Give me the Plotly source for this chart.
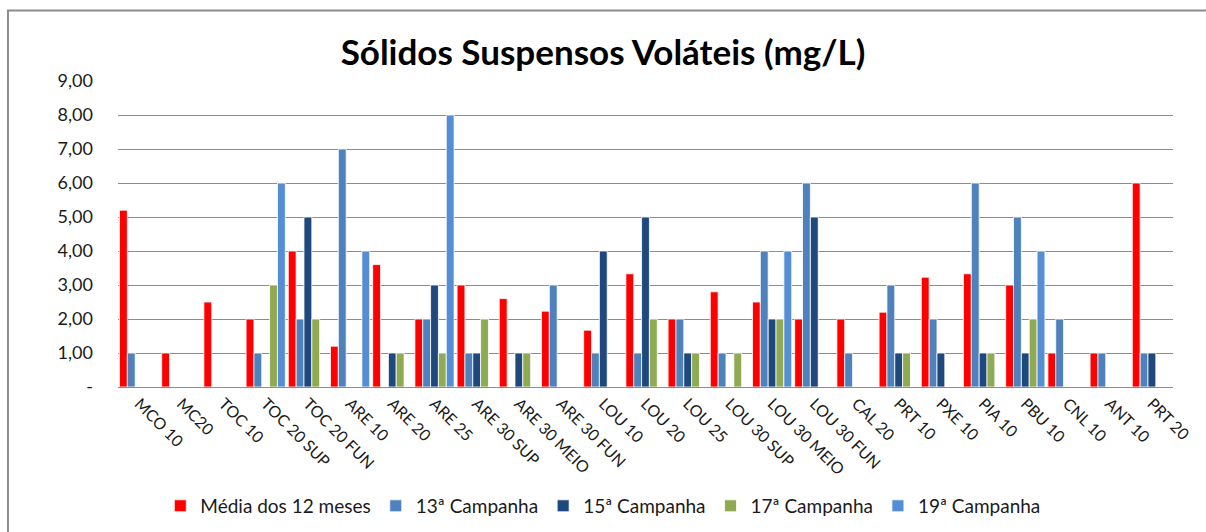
import plotly.graph_objects as go

# categories (sampling points)
pontos = ['MCO 10', 'MC20', 'TOC 10', 'TOC 20 SUP', 'TOC 20 FUN', 'ARE 10', 'ARE 20',
          'ARE 25', 'ARE 30 SUP', 'ARE 30 MEIO', 'ARE 30 FUN', 'LOU 10', 'LOU 20',
          'LOU 25', 'LOU 30 SUP', 'LOU 30 MEIO', 'LOU 30 FUN', 'CAL 20', 'PRT 10',
          'PXE 10', 'PIA 10', 'PBU 10', 'CNL 10', 'ANT 10', 'PRT 20']

# series values (mg/L)
media_12_meses = [5.2, 1.0, 2.5, 2.0, 4.0, 1.2, 3.6, 2.0, 3.0, 2.6, 2.23, 1.67, 3.33,
                  2.0, 2.8, 2.5, 2.0, 2.0, 2.2, 3.23, 3.33, 3.0, 1.0, 1.0, 6.0]
campanha_13 = [1, 0, 0, 1, 2, 7, 0, 2, 1, 0, 3, 1, 1, 2, 1, 4, 6, 1, 3, 2, 6, 5, 2, 1, 1]
campanha_15 = [0, 0, 0, 0, 5, 0, 1, 3, 1, 1, 0, 4, 5, 1, 0, 2, 5, 0, 1, 1, 1, 1, 0, 0, 1]
campanha_17 = [0, 0, 0, 3, 2, 0, 1, 1, 2, 1, 0, 0, 2, 1, 1, 2, 0, 0, 1, 0, 1, 2, 0, 0, 0]
campanha_19 = [0, 0, 0, 6, 0, 4, 0, 8, 0, 0, 0, 0, 0, 0, 0, 4, 0, 0, 0, 0, 0, 4, 0, 0, 0]

# y axis ticks
y_ticks = [0, 1, 2, 3, 4, 5, 6, 7, 8, 9]
y_tick_labels = ['-', '1,00', '2,00', '3,00', '4,00', '5,00', '6,00', '7,00', '8,00', '9,00']

series = [
    ('Média dos 12 meses', media_12_meses, '#FF0000'),
    ('13ª Campanha', campanha_13, '#4F81BD'),
    ('15ª Campanha', campanha_15, '#1F497D'),
    ('17ª Campanha', campanha_17, '#8FAA52'),
    ('19ª Campanha', campanha_19, '#558ED5'),
]

fig = go.Figure()
for nome, valores, cor in series:
    fig.add_trace(go.Bar(x=pontos, y=valores, name=nome,
                         marker=dict(color=cor, line=dict(color='white', width=0.8))))

fig.update_layout(
    width=1206, height=532,
    barmode='group', bargap=0.07, bargroupgap=0,
    title=dict(text='<b>Sólidos Suspensos Voláteis (mg/L)</b>', x=0.5, xanchor='center',
               y=0.9, yanchor='middle',
               font=dict(family='Lato', size=35, color='black')),
    font=dict(family='Lato', size=16, color='#1a1a1a'),
    plot_bgcolor='white', paper_bgcolor='white',
    margin=dict(l=118, r=33, t=81, b=145),
    showlegend=True,
    legend=dict(orientation='h', x=0.46, xanchor='center',
                yref='container', y=0.049, yanchor='middle',
                font=dict(size=19, color='#1a1a1a'), traceorder='normal'),
)

fig.update_yaxes(range=[0, 9], tickvals=y_ticks, ticktext=y_tick_labels,
                 showgrid=True, gridcolor='#8C8C8C', gridwidth=1.3,
                 zeroline=False, showline=False, ticks='', automargin=False,
                 tickfont=dict(size=18), ticklabelstandoff=24)
fig.update_xaxes(tickangle=45, showline=True, linecolor='#8C8C8C', linewidth=1.3,
                 showgrid=False, ticks='', automargin=False, tickfont=dict(size=16))

# outer chart border
fig.add_shape(type='rect', xref='paper', yref='paper',
              x0=-0.1043, x1=1.2, y0=-0.7, y1=1.2306,
              line=dict(color='#8C8C8C', width=2), layer='below')

# drop the page's default body margin so the chart sits at the window origin
fig.write_html('out.html', config={'displayModeBar': False},
               post_script="document.body.style.margin='0';")
